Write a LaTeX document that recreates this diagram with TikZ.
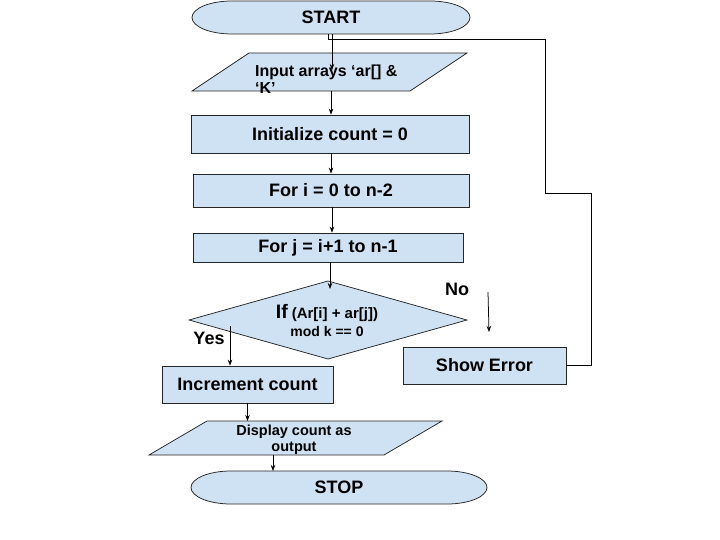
\documentclass[tikz,border=0pt]{standalone}
\usepackage{fontspec}
\setmainfont{Liberation Sans}
\usetikzlibrary{arrows.meta}
\definecolor{boxblue}{HTML}{CFE2F3}
\begin{document}
\begin{tikzpicture}[x=1pt,y=-1pt,
  shp/.style={draw=black!85, fill=boxblue, line width=0.75pt},
  rbox/.style={shp, rectangle, inner sep=0pt, font=\bfseries\fontsize{18}{20}\selectfont},
  ghost/.style={rectangle, inner sep=0pt, outer sep=0pt},
  lbl/.style={inner sep=0pt, font=\bfseries\fontsize{18}{20}\selectfont},
  arr/.style={draw=black, line width=0.75pt, -{Stealth[length=6pt,width=4.5pt]}},
  ln/.style={draw=black, line width=0.75pt}]
\useasboundingbox[fill=white] (0,0) rectangle (720,540);

% START terminator
\node[ghost, minimum width=278, minimum height=33] (start) at (331,17.5) {};
\path[shp] ([xshift=40pt]start.north west) -- ([xshift=-40pt]start.north east)
  arc[start angle=90, end angle=-90, x radius=40pt, y radius=16.5pt]
  -- ([xshift=40pt]start.south west)
  arc[start angle=270, end angle=90, x radius=40pt, y radius=16.5pt] -- cycle;
\node[lbl] (startT) at (start.center) {START};

% input parallelogram
\node[ghost, minimum width=275, minimum height=38] (in) at (329.5,72) {};
\path[shp] ([xshift=57pt]in.north west) -- (in.north east) -- ([xshift=-57pt]in.south east) -- (in.south west) -- cycle;
\node[inner sep=0pt, anchor=north west, align=left, font=\bfseries\fontsize{16}{17}\selectfont] (inT) at (255,65) {Input arrays ‘ar[] \&\\‘K’};

% process boxes
\node[rbox, minimum width=278, minimum height=38] (init) at (330,134) {Initialize count = 0};
\node[rbox, minimum width=276, minimum height=33] (fori) at (331,190.5) {For i = 0 to n-2};
\node[rbox, minimum width=270, minimum height=29] (forj) at (328,247.5) {For j = i+1 to n-1};

% decision diamond
\node[ghost, minimum width=278, minimum height=78] (dia) at (328,320) {};
\path[shp] (dia.west) -- (dia.north) -- (dia.east) -- (dia.south) -- cycle;
\node[inner sep=0pt, align=center, font=\bfseries\fontsize{14}{18}\selectfont] (diaT) at (327,321)
  {{\fontsize{19.5}{18}\selectfont If} {\fontsize{15}{18}\selectfont (Ar[i] + ar[j])}\\mod k == 0};

\node[lbl] (yes) at (209,338) {Yes};
\node[lbl] (no) at (457,289) {No};

\node[rbox, minimum width=171, minimum height=37] (inc) at (247.5,384.5) {Increment count};
\node[rbox, minimum width=163, minimum height=37] (err) at (484.5,365.5) {Show Error};

% display parallelogram
\node[ghost, minimum width=293, minimum height=34] (disp) at (295.5,438) {};
\path[shp] ([xshift=58pt]disp.north west) -- (disp.north east) -- ([xshift=-58pt]disp.south east) -- (disp.south west) -- cycle;
\node[inner sep=0pt, align=center, font=\bfseries\fontsize{14.5}{16}\selectfont] (dispT) at (294,440) {Display count as\\output};

% STOP terminator
\node[ghost, minimum width=296, minimum height=33] (stop) at (339,487.5) {};
\path[shp] ([xshift=40pt]stop.north west) -- ([xshift=-40pt]stop.north east)
  arc[start angle=90, end angle=-90, x radius=40pt, y radius=16.5pt]
  -- ([xshift=40pt]stop.south west)
  arc[start angle=270, end angle=90, x radius=40pt, y radius=16.5pt] -- cycle;
\node[lbl] (stopT) at (stop.center) {STOP};

% connectors
\coordinate (inHit) at (332,70);
\coordinate (diaHit) at (330,289);
\coordinate (yesS) at (230,326);
\coordinate (stopIn) at (273,471);
\coordinate (noA) at (488,292);
\coordinate (noB) at (489,332);
\coordinate (loopR) at (591,193);
\coordinate (loopT) at (545,39);

\draw[arr] (start.south -| inHit) -- (inHit);
\draw[arr] ([xshift=1.5pt]in.south) -- ([xshift=1.5pt]in.south |- init.north);
\draw[arr] ([xshift=1pt]init.south) -- ([xshift=1pt]init.south |- fori.north);
\draw[arr] ([xshift=1pt]fori.south) -- ([xshift=1pt]fori.south |- forj.north);
\draw[arr] (forj.south -| diaHit) -- (diaHit);
\draw[arr] (yesS) -- (yesS |- inc.north);
\draw[arr] (inc.south) -- (inc.south |- disp.north);
\draw[arr] (disp.south -| stopIn) -- (stopIn);
\draw[arr] (noA) -- (noB);
\draw[ln] (err.east) -| (loopR) -- (loopT |- loopR) -- (loopT) -- ([xshift=-3pt]start.south |- loopT) -- ([xshift=-3pt]start.south);
\end{tikzpicture}
\end{document}
